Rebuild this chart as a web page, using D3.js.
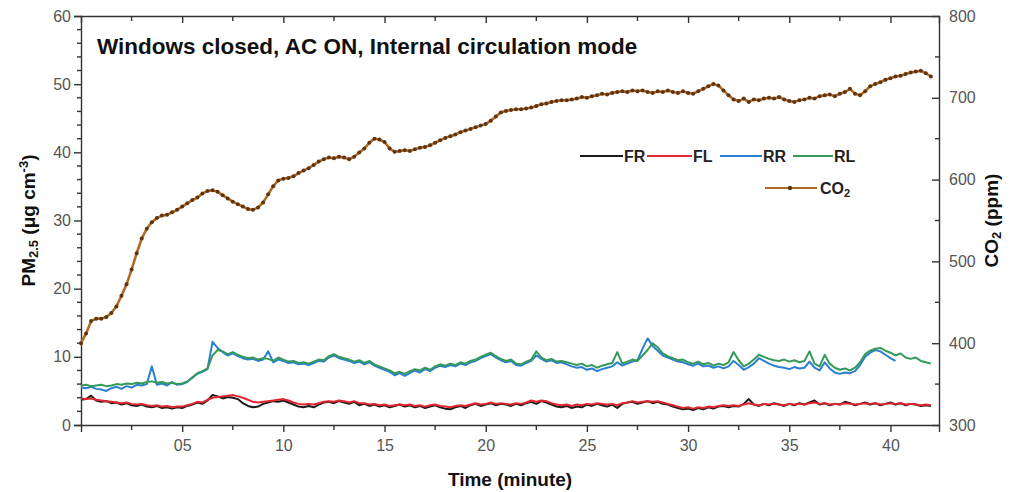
<!DOCTYPE html>
<html>
<head>
<meta charset="utf-8">
<script src="https://cdn.jsdelivr.net/npm/d3@7"></script>
<style>
  body { margin: 0; background: #fff; }
  svg { font-family: "Liberation Sans", Arial, sans-serif; }
  .tick text { fill: #555; font-size: 16px; }
  .axis path, .axis line { stroke: #333; stroke-width: 1.4; }
</style>
</head>
<body>
<div id="chart"></div>
<script>
// sampling step of the logger (minutes)
var step = 0.25;

var seriesNames = ["FR", "FL", "RR", "RL"];
var seriesColors = { FR: "#1b1b1b", FL: "#e0262e", RR: "#2a7fd0", RL: "#35995a" };

var FR = [
  3.7,3.8,4.3,3.6, 3.4,3.5,3.2,3.3, 3.0,3.2,2.9,2.8, 3.0,2.7,2.6,2.8, 2.5,2.6,2.4,2.6,
  2.5,2.8,3.0,3.3, 3.1,3.6,4.4,4.2, 3.9,4.1,4.0,3.8, 3.2,2.8,2.6,2.7, 3.1,3.3,3.5,3.4,
  3.6,3.3,3.0,2.7, 2.6,2.8,2.6,3.0, 3.3,3.4,3.2,3.5, 3.3,3.1,3.4,2.9, 3.1,2.8,3.0,2.7,
  2.9,2.6,2.8,3.0, 2.7,2.9,2.6,2.8, 2.5,2.7,2.9,2.6, 2.4,2.3,2.6,2.8, 2.5,2.9,3.1,2.8,
  3.0,3.2,2.9,3.1, 3.0,2.8,3.1,2.9, 3.2,3.4,3.1,3.5, 3.3,3.0,2.7,2.6, 2.8,2.5,2.7,2.6,
  3.0,2.8,3.1,2.9, 2.7,3.0,2.5,3.1, 3.3,3.4,3.1,3.3, 3.5,3.2,3.4,3.1, 3.0,2.7,2.5,2.3,
  2.4,2.2,2.5,2.3, 2.6,2.4,2.7,2.8, 2.6,2.8,2.7,3.1, 3.8,3.0,2.8,3.1, 2.9,3.2,3.0,2.8,
  3.1,2.9,3.2,3.0, 3.3,3.6,3.0,3.2, 2.9,3.1,3.0,3.4, 3.2,2.9,3.1,3.3, 3.0,3.2,2.9,3.1,
  3.3,3.0,3.2,2.9, 3.1,3.0,2.8,2.9, 2.8
];
var FL = [
  3.9,3.8,3.9,3.7, 3.6,3.5,3.4,3.3, 3.2,3.3,3.1,3.0, 3.1,2.9,2.8,2.9, 2.7,2.8,2.6,2.7,
  2.7,2.9,3.1,3.4, 3.3,3.7,4.0,4.1, 4.2,4.3,4.4,4.2, 4.0,3.7,3.4,3.3, 3.4,3.5,3.6,3.7,
  3.8,3.6,3.3,3.1, 3.0,3.1,3.0,3.2, 3.4,3.5,3.4,3.6, 3.5,3.3,3.5,3.2, 3.2,3.0,3.1,2.9,
  3.0,2.8,2.9,3.0, 2.9,3.0,2.8,2.9, 2.7,2.9,3.0,2.8, 2.7,2.6,2.8,2.9, 2.8,3.0,3.2,3.0,
  3.1,3.3,3.1,3.2, 3.1,3.0,3.2,3.1, 3.3,3.6,3.4,3.6, 3.5,3.2,3.0,2.9, 3.0,2.8,3.0,2.9,
  3.1,3.0,3.2,3.1, 3.0,3.1,2.9,3.2, 3.3,3.5,3.3,3.4, 3.5,3.4,3.5,3.3, 3.1,2.9,2.7,2.5,
  2.6,2.4,2.6,2.5, 2.7,2.6,2.8,2.9, 2.8,2.9,2.8,3.0, 3.2,3.0,2.9,3.1, 3.0,3.1,3.0,2.9,
  3.1,3.0,3.1,3.0, 3.2,3.3,3.1,3.2, 3.0,3.1,3.0,3.2, 3.1,3.0,3.1,3.2, 3.1,3.2,3.0,3.1,
  3.2,3.1,3.2,3.0, 3.1,3.0,2.9,3.0, 2.9
];
var RR = [
  5.5,5.4,5.6,5.3, 5.2,5.0,5.4,5.6, 5.3,5.7,5.5,5.9, 5.8,6.0,8.6,5.9, 6.1,5.8,6.3,5.9,
  6.0,6.3,7.0,7.5, 7.8,8.2,12.2,11.3, 10.7,10.2,10.5,10.1, 9.8,9.6,9.7,9.4, 9.6,10.8,9.2,9.6,
  9.4,9.1,9.2,8.9, 9.0,8.8,9.1,9.4, 9.3,9.9,10.2,9.8, 9.6,9.4,9.1,9.3, 8.9,9.2,8.7,8.4,
  8.1,7.8,7.3,7.6, 7.2,7.6,8.0,7.7, 8.2,7.9,8.4,8.7, 8.5,8.8,8.6,9.0, 8.8,9.2,9.4,9.8,
  10.1,10.4,9.9,9.5, 9.2,9.4,8.8,8.7, 9.1,9.4,10.2,9.7, 9.3,9.5,9.1,9.2, 8.9,8.6,8.4,8.5,
  8.1,8.3,7.9,8.2, 8.4,8.6,9.2,8.7, 9.0,9.3,9.5,11.2, 12.7,11.6,10.9,10.2, 9.9,9.6,9.3,9.2,
  8.9,8.7,9.0,8.6, 8.7,8.4,8.6,8.3, 8.6,9.4,8.8,8.1, 8.5,9.0,9.8,9.4, 9.0,8.7,8.5,8.4,
  8.2,8.5,8.3,8.4, 9.3,8.4,8.0,9.2, 8.3,7.7,7.5,7.7, 7.6,7.9,8.8,10.0, 10.6,11.0,10.8,10.3,
  9.8,9.4
];
var RL = [
  5.8,5.9,5.7,5.8, 5.9,5.7,5.8,6.0, 5.9,6.1,6.0,6.2, 6.1,6.3,6.4,6.2, 6.3,6.1,6.2,6.0,
  6.1,6.4,6.9,7.6, 7.9,8.3,10.2,11.0, 10.8,10.4,10.7,10.3, 10.0,9.8,9.9,9.6, 9.8,9.7,9.4,9.9,
  9.6,9.3,9.4,9.1, 9.2,9.0,9.3,9.6, 9.5,10.1,10.4,10.0, 9.8,9.6,9.3,9.5, 9.1,9.4,8.9,8.6,
  8.3,8.0,7.6,7.8, 7.5,7.9,8.2,8.0, 8.4,8.1,8.6,8.9, 8.7,9.0,8.8,9.2, 9.0,9.4,9.6,10.0,
  10.3,10.6,10.1,9.7, 9.4,9.6,9.0,8.9, 9.3,9.6,10.8,9.9, 9.5,9.7,9.3,9.4, 9.2,9.0,8.8,9.0,
  8.6,8.8,8.4,8.7, 8.9,9.1,10.7,9.0, 9.3,9.6,9.4,10.2, 11.0,12.0,11.4,10.5, 10.1,9.8,9.5,9.6,
  9.2,9.0,9.3,8.9, 9.1,8.7,9.0,8.8, 9.2,10.7,9.5,8.6, 9.0,9.6,10.3,10.0, 9.7,9.5,9.4,9.6,
  9.3,9.5,9.2,9.4, 10.8,9.0,8.6,10.3, 9.0,8.4,8.1,8.3, 8.0,8.4,9.2,10.4, 10.9,11.2,11.3,10.9,
  10.6,10.2,10.5,9.9, 9.7,9.9,9.4,9.2, 9.0
];
var CO2 = [
  400,412,427,430, 430,432,437,445, 458,472,490,510, 528,540,548,553, 556,557,560,563,
  567,571,575,578, 583,586,587,585, 581,577,573,570, 567,564,563,566, 572,582,592,599,
  601,602,604,608, 611,614,618,622, 625,627,626,628, 627,625,628,633, 638,645,650,649,
  646,638,634,635, 636,635,637,639, 640,642,645,648, 651,653,655,658, 660,662,664,666,
  668,672,677,682, 684,685,686,686, 687,688,690,692, 693,695,696,697, 697,698,699,701,
  700,702,703,705, 704,706,707,708, 707,709,708,709, 707,706,708,707, 709,707,706,708,
  706,705,708,711, 714,717,715,709, 703,698,696,699, 695,698,697,699, 700,699,701,698,
  696,695,697,698, 700,699,702,703, 704,702,705,707, 711,705,703,708, 714,717,719,722,
  724,726,727,729, 731,732,733,730, 726
];

var pmTicks = [0, 10, 20, 30, 40, 50, 60];
var co2Ticks = [300, 400, 500, 600, 700, 800];
var timeTicks = [5, 10, 15, 20, 25, 30, 35, 40];

var W = 1010, H = 492;
var margin = { left: 81, right: 71, top: 16, bottom: 67 };
var svg = d3.select("#chart").append("svg").attr("width", W).attr("height", H);

var x = d3.scaleLinear().domain([0, 42.4]).range([margin.left, W - margin.right]);
var y = d3.scaleLinear().domain([0, 60]).range([H - margin.bottom, margin.top]);
var y2 = d3.scaleLinear().domain([300, 800]).range([H - margin.bottom, margin.top]);

var minorX = d3.range(2.5, 42.4, 5);
var minorY = d3.range(0, 60.1, 2).filter(function(v){ return v % 10 !== 0; });
var minorY2 = [350, 450, 550, 650, 750];

// frame / axes
var gx = svg.append("g").attr("class", "axis").attr("transform", "translate(0," + y(0) + ")")
  .call(d3.axisBottom(x).tickValues(timeTicks).tickSize(7).tickPadding(5).tickFormat(d3.format("02d")));
gx.selectAll(".tick text").attr("dy", "0.85em");
gx.append("g").selectAll("line").data(minorX).enter().append("line")
  .attr("x1", x).attr("x2", x).attr("y1", 0).attr("y2", 5).attr("stroke", "#333").attr("stroke-width", 1.2);

var gt = svg.append("g").attr("class", "axis").attr("transform", "translate(0," + y(60) + ")")
  .call(d3.axisBottom(x).tickValues(timeTicks).tickSize(7).tickFormat(""));
gt.append("g").selectAll("line").data(minorX).enter().append("line")
  .attr("x1", x).attr("x2", x).attr("y1", 0).attr("y2", 5).attr("stroke", "#333").attr("stroke-width", 1.2);

var gy = svg.append("g").attr("class", "axis").attr("transform", "translate(" + x(0) + ",0)")
  .call(d3.axisLeft(y).tickValues(pmTicks).tickSize(7).tickPadding(3));
gy.append("g").selectAll("line").data(minorY).enter().append("line")
  .attr("y1", y).attr("y2", y).attr("x1", -4).attr("x2", 0).attr("stroke", "#333").attr("stroke-width", 1.2);

var gy2 = svg.append("g").attr("class", "axis").attr("transform", "translate(" + x(42.4) + ",0)")
  .call(d3.axisRight(y2).tickValues(co2Ticks).tickSizeInner(-7).tickSizeOuter(0).tickPadding(10));
gy2.append("g").selectAll("line").data(minorY2).enter().append("line")
  .attr("y1", y2).attr("y2", y2).attr("x1", -4).attr("x2", 0).attr("stroke", "#333").attr("stroke-width", 1.2);

// PM lines
var pmLine = d3.line()
  .x(function(d, i){ return x(i * step); })
  .y(function(d){ return y(d); });
var pmData = { FR: FR, FL: FL, RR: RR, RL: RL };
["FR", "FL", "RR", "RL"].forEach(function(k){
  svg.append("path").datum(pmData[k])
    .attr("fill", "none").attr("stroke", seriesColors[k]).attr("stroke-width", 2)
    .attr("stroke-linejoin", "round").attr("d", pmLine);
});

// CO2 line with markers
var co2Line = d3.line()
  .x(function(d, i){ return x(i * step); })
  .y(function(d){ return y2(d); });
svg.append("path").datum(CO2)
  .attr("fill", "none").attr("stroke", "#b06a26").attr("stroke-width", 2.6).attr("d", co2Line);
svg.append("g").selectAll("circle").data(CO2).enter().append("circle")
  .attr("cx", function(d, i){ return x(i * step); })
  .attr("cy", function(d){ return y2(d); })
  .attr("r", 2).attr("fill", "#603410");

// title
svg.append("text").attr("x", 97).attr("y", 54)
  .attr("font-size", 22.5).attr("font-weight", "bold").attr("fill", "#111")
  .text("Windows closed, AC ON, Internal circulation mode");

// axis titles
var yl = svg.append("text").attr("transform", "translate(35," + ((y(0) + y(60)) / 2) + ") rotate(-90)")
  .attr("text-anchor", "middle").attr("font-size", 19).attr("font-weight", "bold").attr("fill", "#111");
yl.append("tspan").text("PM");
yl.append("tspan").attr("font-size", 13).attr("baseline-shift", "-25%").text("2.5");
yl.append("tspan").text(" (μg cm");
yl.append("tspan").attr("font-size", 13).attr("baseline-shift", "super").text("-3");
yl.append("tspan").text(")");

var yr = svg.append("text").attr("transform", "translate(998," + ((y(0) + y(60)) / 2) + ") rotate(-90)")
  .attr("text-anchor", "middle").attr("font-size", 19).attr("font-weight", "bold").attr("fill", "#111");
yr.append("tspan").text("CO");
yr.append("tspan").attr("font-size", 13).attr("baseline-shift", "-25%").text("2");
yr.append("tspan").text(" (ppm)");

svg.append("text").attr("x", (x(0) + x(42.4)) / 2).attr("y", 486)
  .attr("text-anchor", "middle").attr("font-size", 19).attr("font-weight", "bold").attr("fill", "#111")
  .text("Time (minute)");

// legend
var leg = [
  { k: "FR", x1: 580, x2: 623 },
  { k: "FL", x1: 647, x2: 692 },
  { k: "RR", x1: 720, x2: 762 },
  { k: "RL", x1: 793, x2: 833 }
];
var lg = svg.append("g");
leg.forEach(function(d){
  lg.append("line").attr("x1", d.x1).attr("x2", d.x2).attr("y1", 156).attr("y2", 156)
    .attr("stroke", seriesColors[d.k]).attr("stroke-width", 2.2);
  lg.append("text").attr("x", d.x2 + 1).attr("y", 162).attr("font-size", 16).attr("font-weight", "bold")
    .attr("fill", "#222").text(d.k);
});
lg.append("line").attr("x1", 765).attr("x2", 817).attr("y1", 188).attr("y2", 188)
  .attr("stroke", "#b06a26").attr("stroke-width", 2.2);
lg.append("circle").attr("cx", 790).attr("cy", 188).attr("r", 2.2).attr("fill", "#603410");
var ct = lg.append("text").attr("x", 820).attr("y", 194).attr("font-size", 16).attr("font-weight", "bold").attr("fill", "#222");
ct.append("tspan").text("CO");
ct.append("tspan").attr("font-size", 11).attr("baseline-shift", "-25%").text("2");
</script>
</body>
</html>
